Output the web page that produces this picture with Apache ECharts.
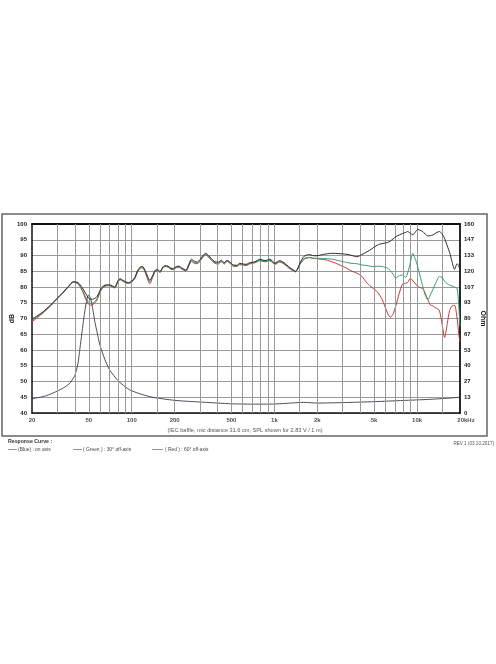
<!DOCTYPE html>
<html>
<head>
<meta charset="utf-8">
<script src="https://cdn.jsdelivr.net/npm/echarts@6/dist/echarts.min.js"></script>
<style>
html,body{margin:0;padding:0;background:#fff;}
#chart{width:496px;height:664px;}
</style>
</head>
<body>
<div id="chart"></div>
<script>
// ---- data ----
const freqs = [20,22,24,27,30,33,36,39,42,45,48,51,54,57,61,65,70,76,80,83,87,91,95,100,105,110,115,119,124,129,134,140,146,152,158,165,172,180,188,196,205,215,225,240,252,262,275,288,300,315,330,345,362,383,405,425,445,465,485,515,545,572,605,636,670,730,790,860,930,1010,1090,1150,1220,1290,1360,1400,1450,1500,1560,1620,1700,1765,1850,1960,2130,2300,2570,2800,3200,3500,3780,4100,4470,4850,5260,5700,6200,6500,6800,7100,7500,7920,8300,8600,9000,9330,9700,10100,10500,10980,11400,11900,12400,12900,13600,14350,15000,15600,16300,16900,17600,18300,19100,19600,20000];
const onAxis = [69.8,71.0,72.2,74.3,76.4,78.3,80.2,81.7,81.4,79.8,77.7,76.1,76.2,76.9,79.6,80.6,80.7,80.0,82.0,82.6,82.1,81.6,81.4,81.9,83.0,85.2,86.4,86.5,85.3,83.4,82.1,83.6,85.3,85.5,84.9,86.3,86.8,86.6,86.0,85.9,86.5,86.6,86.0,85.4,87.3,88.8,88.2,87.9,88.6,89.9,90.7,90.0,89.0,88.0,87.9,88.5,87.7,88.5,88.0,87.0,86.9,87.5,87.3,87.2,87.7,88.0,88.8,88.4,88.8,87.6,88.4,87.9,87.0,86.1,85.4,85.0,85.7,87.3,88.8,89.8,90.2,90.3,90.0,89.9,90.2,90.5,90.7,90.6,90.4,90.0,89.6,90.3,91.2,92.2,93.3,93.8,94.1,94.6,95.3,96.0,96.5,97.0,97.3,97.6,97.0,96.6,97.4,98.3,98.0,97.6,96.8,96.2,96.3,96.5,97.2,97.6,96.8,95.4,93.0,91.0,88.0,85.6,87.4,86.7,85.4];
const off30 = [69.4,70.7,72.0,74.1,76.3,78.2,80.1,81.6,81.2,79.2,76.5,74.8,75.0,76.2,79.2,80.4,80.5,79.8,81.8,82.4,81.9,81.4,81.2,81.7,82.8,85.0,86.2,86.3,85.0,83.0,81.6,83.3,85.1,85.3,84.7,86.1,86.6,86.4,85.8,85.7,86.3,86.4,85.8,85.2,87.0,88.4,87.8,87.6,88.3,89.6,90.5,89.8,88.8,87.7,87.6,88.2,87.5,88.3,87.8,86.8,86.7,87.3,87.1,87.0,87.5,87.8,88.5,88.2,88.5,87.4,88.1,87.7,86.8,85.9,85.3,84.9,85.6,87.0,88.3,89.1,89.3,89.3,89.2,89.1,89.1,89.0,88.8,88.4,87.8,87.5,87.4,87.0,86.8,86.5,86.6,86.5,86.0,85.2,84.0,82.8,83.6,83.8,83.0,84.5,88.0,90.7,89.0,86.5,83.5,80.1,77.5,75.9,77.5,79.2,81.5,83.3,83.0,81.8,81.0,80.6,80.3,80.0,79.5,74.0,67.5];
const off60 = [69.0,70.4,71.8,74.0,76.2,78.1,80.0,81.5,81.0,78.8,75.8,74.2,74.6,75.8,79.0,80.3,80.4,79.7,81.7,82.3,81.8,81.3,81.1,81.6,82.6,84.8,86.0,86.1,84.7,82.5,81.0,83.0,84.9,85.2,84.6,86.0,86.5,86.3,85.6,85.5,86.1,86.2,85.7,85.0,86.8,88.1,87.5,87.4,88.1,89.4,90.2,89.5,88.5,87.5,87.3,88.0,87.3,88.1,87.6,86.6,86.5,87.1,86.9,86.8,87.3,87.7,88.3,88.0,88.3,87.2,87.9,87.5,86.6,85.7,85.2,84.8,85.5,87.0,88.0,88.9,89.2,89.4,89.1,89.0,88.8,88.6,87.9,87.2,86.0,85.0,84.4,83.4,81.2,79.8,78.5,76.0,71.8,70.4,71.5,74.0,78.0,81.0,81.2,81.4,82.8,82.0,81.2,80.2,79.8,79.5,78.0,76.0,74.3,74.0,73.3,72.5,68.0,64.0,68.5,72.5,74.0,74.2,70.0,65.0,62.5];
const impFreqs = [20,25,30,34,37,40,42,43.4,45,47,48.5,50,51.5,53.5,55,57,60,65,70,80,97,134,200,300,500,700,1000,1300,1600,2000,3000,5000,8000,12000,16000,20000];
const impedance = [12,14.5,18.5,22,25.5,32,42,55,70,87,96,100,97,87,78,69,57,45,36.5,27.5,19.5,13.8,10.7,9.3,7.8,7.5,7.6,8.4,9.0,8.4,8.8,9.6,10.6,11.5,12.4,13.3];
const gridFreqs = [30,40,50,60,70,80,90,100,150,200,300,400,500,600,700,800,900,1000,1500,2000,3000,4000,5000,6000,7000,8000,9000,10000,15000];
const tickFreqs = [20,50,100,200,500,1000,2000,5000,10000,20000];
const tickLabels = ['20','50','100','200','500','1k','2k','5k','10k','20kHz'];
const legendItems = ['(Blue) : on axis','( Green ) : 30° off-axis','( Red ) : 60° off-axis'];

// ---- chart ----
const FONT = 'Liberation Sans, Arial, sans-serif';
const chart = echarts.init(document.getElementById('chart'), null, {renderer:'canvas'});
const zip = (xs, ys) => xs.map((x, i) => [x, ys[i]]);

const labelData = tickFreqs.map((f, i) => {
  const item = {value:[f, 40]};
  if (i === tickFreqs.length - 1) item.label = {offset:[6, 0]};
  return item;
});

const legendX = [8, 73, 152];
const graphics = [
  {type:'rect', shape:{x:2, y:214, width:485, height:222}, style:{fill:'none', stroke:'#666', lineWidth:1.5}, silent:true},
  {type:'text', x:245, y:430, style:{text:'(IEC baffle, mic distance 31.6 cm, SPL shown for 2.83 V / 1 m)', font:'5.6px ' + FONT, fill:'#555', textAlign:'center', textVerticalAlign:'middle'}},
  {type:'text', x:8, y:442, style:{text:'Response Curve :', font:'bold 5.2px ' + FONT, fill:'#333', textVerticalAlign:'middle'}},
  {type:'text', x:494, y:444, style:{text:'REV 1 (03.10.2017)', font:'4.6px ' + FONT, fill:'#555', textAlign:'right', textVerticalAlign:'middle'}}
];
legendItems.forEach((t, i) => {
  graphics.push({type:'line', shape:{x1:legendX[i], y1:449.5, x2:legendX[i] + (i === 2 ? 11 : 9), y2:449.5}, style:{stroke:'#777', lineWidth:0.8}});
  graphics.push({type:'text', x:legendX[i] + (i === 2 ? 13 : 10), y:449.5, style:{text:t, font:'4.9px ' + FONT, fill:'#444', textVerticalAlign:'middle'}});
});

const option = {
  animation:false,
  backgroundColor:'#fff',
  grid:{left:32, right:36, top:224, bottom:251, containLabel:false, outerBoundsMode:'none'},
  xAxis:[
    {type:'log', logBase:10, min:20, max:20000,
     axisLine:{show:true, lineStyle:{color:'#111', width:1.5}},
     axisTick:{show:false}, axisLabel:{show:false}, splitLine:{show:false}},
    {type:'log', logBase:10, min:20, max:20000, position:'top',
     axisLine:{show:true, lineStyle:{color:'#111', width:1.8}},
     axisTick:{show:false}, axisLabel:{show:false}, splitLine:{show:false}}
  ],
  yAxis:[
    {type:'value', min:40, max:100, interval:5, position:'left',
     name:'dB', nameLocation:'middle', nameGap:16, nameRotate:90, nameMoveOverlap:false,
     nameTextStyle:{fontFamily:FONT, fontSize:7, fontWeight:'bold', color:'#222'},
     axisLine:{show:true, lineStyle:{color:'#111', width:1.5}},
     axisTick:{show:false},
     axisLabel:{fontFamily:FONT, fontSize:6, fontWeight:'bold', color:'#222', margin:5},
     splitLine:{show:true, lineStyle:{color:'#999', width:1}}},
    {type:'value', min:0, max:160, interval:160/12, position:'right',
     name:'Ohm', nameLocation:'middle', nameGap:19, nameRotate:-90, nameMoveOverlap:false,
     nameTextStyle:{fontFamily:FONT, fontSize:7, fontWeight:'bold', color:'#222'},
     axisLine:{show:true, lineStyle:{color:'#111', width:1.8}},
     axisTick:{show:false},
     axisLabel:{fontFamily:FONT, fontSize:6, fontWeight:'bold', color:'#222', margin:4,
       formatter:v => String(Math.round(v))},
     splitLine:{show:false}}
  ],
  series:[
    {type:'line', name:'grid', xAxisIndex:0, yAxisIndex:0, data:[[20,40]], symbol:'none', silent:true, z:1,
     lineStyle:{width:0},
     markLine:{silent:true, symbol:['none','none'], label:{show:false},
       lineStyle:{color:'#999', width:1, type:'solid'},
       data:gridFreqs.map(f => ({xAxis:f}))}},
    {type:'line', name:'Impedance', xAxisIndex:0, yAxisIndex:1, data:zip(impFreqs, impedance),
     symbol:'none', smooth:0.2, z:3, lineStyle:{color:'#3a3a4a', width:0.9}},
    {type:'line', name:'60° off-axis', xAxisIndex:0, yAxisIndex:0, data:zip(freqs, off60),
     symbol:'none', smooth:0.25, z:4, lineStyle:{color:'#c33b38', width:1}},
    {type:'line', name:'30° off-axis', xAxisIndex:0, yAxisIndex:0, data:zip(freqs, off30),
     symbol:'none', smooth:0.25, z:5, lineStyle:{color:'#3c9a72', width:1}},
    {type:'line', name:'on axis', xAxisIndex:0, yAxisIndex:0, data:zip(freqs, onAxis),
     symbol:'none', smooth:0.25, z:6, lineStyle:{color:'#2c2c2c', width:1}},
    {type:'scatter', name:'xlabels', xAxisIndex:0, yAxisIndex:0, data:labelData, clip:false,
     symbolSize:1, itemStyle:{color:'rgba(0,0,0,0)'}, silent:true, z:7,
     label:{show:true, position:'bottom', distance:4, fontFamily:FONT, fontSize:6, fontWeight:'bold', color:'#222',
       formatter:p => tickLabels[p.dataIndex]}}
  ],
  graphic:graphics
};
chart.setOption(option);
</script>
</body>
</html>
